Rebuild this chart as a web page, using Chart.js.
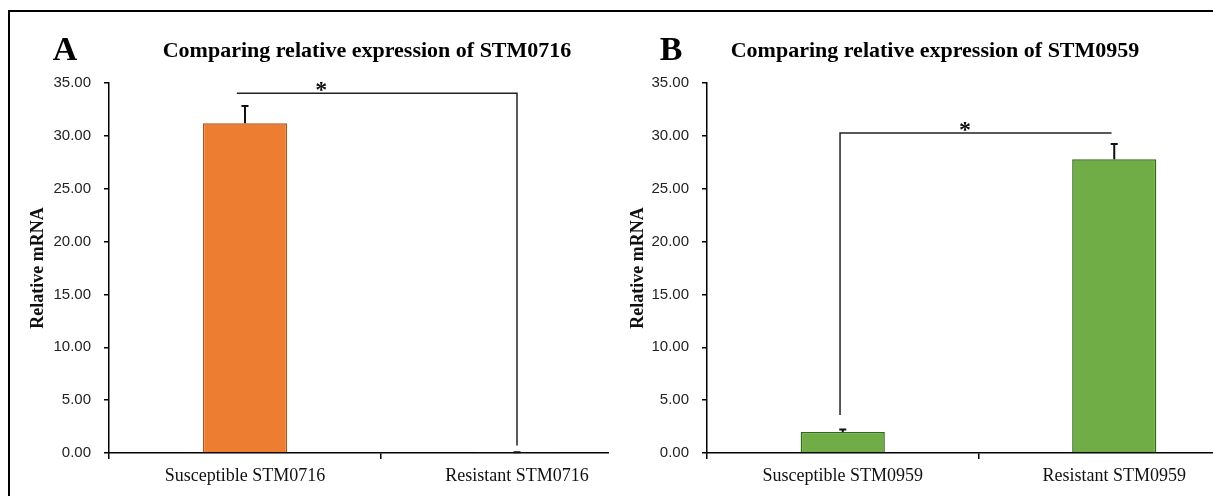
<!DOCTYPE html>
<html>
<head>
<meta charset="utf-8">
<script src="https://cdn.jsdelivr.net/npm/chart.js@4.4.1/dist/chart.umd.min.js"></script>
<style>
  html, body { margin: 0; padding: 0; background: #fff; }
  body { width: 1213px; height: 496px; position: relative; overflow: hidden; }
  .frame { position: absolute; left: 8px; top: 10px; width: 1300px; height: 600px;
           border-left: 2px solid #000; border-top: 2px solid #000; pointer-events: none; }
  #wrapA { position: absolute; left: 0; top: 0; width: 609px; height: 496px; overflow: hidden; }
  #chartA { position: absolute; left: 0; top: 0; }
  #chartB { position: absolute; left: 600px; top: 0; }
</style>
</head>
<body>
<div id="wrapA"><canvas id="chartA" width="700" height="496"></canvas></div>
<canvas id="chartB" width="700" height="496"></canvas>
<div class="frame"></div>
<script>
// --- data ---
const categoriesA = ['Susceptible STM0716', 'Resistant STM0716'];
const valuesA = [31.19, 0.05];
const errorsA = [1.64, 0.03];

const categoriesB = ['Susceptible STM0959', 'Resistant STM0959'];
const valuesB = [1.98, 27.78];
const errorsB = [0.25, 1.45];

const yMin = 0, yMax = 35, yStep = 5;

// significance brackets (x in category index, y in data units)
const bracketA = { x0: -0.03, x1: 1, y: 34.03, leftTo: null, rightTo: 0.7, star: 0.28 };
const bracketB = { x0: -0.01, x1: 0.99, y: 30.27, leftTo: 3.6, rightTo: null, star: 0.45 };

const serif = '"Liberation Serif", "Times New Roman", serif';
const sans = '"Liberation Sans", Arial, sans-serif';

// error bars, bracket, asterisk, panel letter and title
const annotate = {
  id: 'annotate',
  afterDatasetsDraw(chart, args, o) {
    const ctx = chart.ctx, x = chart.scales.x, y = chart.scales.y;
    const meta = chart.getDatasetMeta(0);
    ctx.save();
    ctx.strokeStyle = '#111';
    ctx.lineWidth = 2;
    o.errors.forEach((e, i) => {
      const bar = meta.data[i];
      const top = y.getPixelForValue(o.values[i] + e);
      ctx.beginPath();
      ctx.moveTo(bar.x, bar.y);
      ctx.lineTo(bar.x, top);
      ctx.moveTo(bar.x - 3.5, top);
      ctx.lineTo(bar.x + 3.5, top);
      ctx.stroke();
    });

    const p0 = x.getPixelForValue(0), p1 = x.getPixelForValue(1);
    const xAt = t => p0 + (p1 - p0) * t;
    const b = o.bracket;
    const by = y.getPixelForValue(b.y);
    ctx.lineWidth = 1.5;
    ctx.strokeStyle = '#222';
    ctx.beginPath();
    if (b.leftTo !== null) {
      ctx.moveTo(xAt(b.x0), y.getPixelForValue(b.leftTo));
      ctx.lineTo(xAt(b.x0), by);
    } else {
      ctx.moveTo(xAt(b.x0), by);
    }
    ctx.lineTo(xAt(b.x1), by);
    if (b.rightTo !== null) ctx.lineTo(xAt(b.x1), y.getPixelForValue(b.rightTo));
    ctx.stroke();

    ctx.fillStyle = '#111';
    ctx.textAlign = 'center';
    ctx.textBaseline = 'alphabetic';
    ctx.font = 'bold 24px ' + serif;
    ctx.fillText('*', xAt(b.star), by + 4);
    ctx.restore();
  },
  afterDraw(chart, args, o) {
    const ctx = chart.ctx;
    ctx.save();
    ctx.fillStyle = '#000';
    ctx.textBaseline = 'alphabetic';
    ctx.textAlign = 'center';
    ctx.font = 'bold 34px ' + serif;
    ctx.fillText(o.letter, o.letterX, 60);
    ctx.font = 'bold 22px ' + serif;
    ctx.fillText(o.title, o.titleX, 57);
    ctx.restore();
  }
};

function makeChart(id, labels, values, errors, color, border, yWidth, padRight, extra) {
  return new Chart(document.getElementById(id), {
    type: 'bar',
    data: {
      labels: labels,
      datasets: [{
        data: values,
        backgroundColor: color,
        borderColor: border,
        borderWidth: 1.5,
        categoryPercentage: 1,
        barPercentage: 0.31
      }]
    },
    options: {
      responsive: false,
      animation: false,
      layout: { padding: { top: 83, right: padRight, bottom: 0, left: 0 } },
      plugins: {
        legend: { display: false },
        tooltip: { enabled: false },
        annotate: Object.assign({ values: values, errors: errors }, extra)
      },
      scales: {
        x: {
          afterFit: s => { s.height = 43; },
          grid: { offset: true, drawOnChartArea: false, tickLength: 6, tickColor: '#000', lineWidth: 1.5 },
          border: { color: '#000', width: 1.5 },
          ticks: { color: '#111', padding: 6, font: { family: serif, size: 18 } }
        },
        y: {
          min: yMin,
          max: yMax,
          afterFit: s => { s.width = yWidth; },
          grid: { drawOnChartArea: false, tickLength: 5, tickColor: '#000', lineWidth: 1.5 },
          border: { color: '#000', width: 1.5 },
          ticks: {
            stepSize: yStep,
            color: '#222',
            padding: 13,
            font: { family: sans, size: 15 },
            callback: v => v.toFixed(2)
          },
          title: {
            display: true,
            text: 'Relative mRNA',
            color: '#111',
            padding: { top: 28, bottom: 0 },
            font: { family: serif, size: 18, weight: 'bold' }
          }
        }
      }
    },
    plugins: [annotate]
  });
}

makeChart('chartA', categoriesA, valuesA, errorsA, '#ED7D31', '#B4541A', 109, 47,
  { bracket: bracketA, letter: 'A', letterX: 65, title: 'Comparing relative expression of STM0716', titleX: 367 });

makeChart('chartB', categoriesB, valuesB, errorsB, '#70AD47', '#2E6B17', 107, 50,
  { bracket: bracketB, letter: 'B', letterX: 671 - 600, title: 'Comparing relative expression of STM0959', titleX: 935 - 600 });
</script>
</body>
</html>
